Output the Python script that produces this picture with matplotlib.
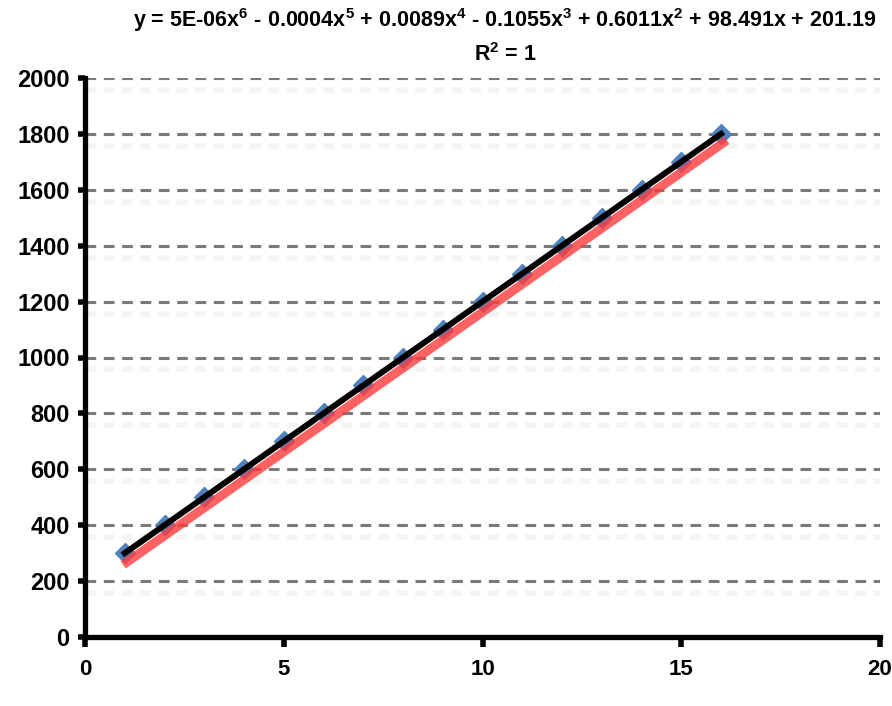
import matplotlib.pyplot as plt
import matplotlib.patheffects as pe
import numpy as np

# data
x_vals = [1, 2, 3, 4, 5, 6, 7, 8, 9, 10, 11, 12, 13, 14, 15, 16]
y_vals = [300, 400, 500, 600, 700, 800, 900, 1000, 1100, 1200, 1300, 1400, 1500, 1600, 1700, 1800]
y_ticks = [0, 200, 400, 600, 800, 1000, 1200, 1400, 1600, 1800, 2000]
x_ticks = [0, 5, 10, 15, 20]
equation = "y = 5E-06x$^6$ - 0.0004x$^5$ + 0.0089x$^4$ - 0.1055x$^3$ + 0.6011x$^2$ + 98.491x + 201.19"
r2_text = "R$^2$ = 1"

plt.rcParams['font.family'] = ['Liberation Sans', 'DejaVu Sans']
plt.rcParams['mathtext.fontset'] = 'custom'
plt.rcParams['mathtext.rm'] = 'Liberation Sans:bold'

fig = plt.figure(figsize=(8.92, 7.06), dpi=100)
ax = fig.add_axes([85 / 892, 1 - 637 / 706, 795 / 892, 559 / 706])

# gridlines with faint shadow
for yt in y_ticks[1:]:
    ax.axhline(yt, color='#7a7a7a', linewidth=2.2, linestyle=(0, (3.5, 2.5)), zorder=1,
               path_effects=[pe.SimpleLineShadow(offset=(0, -8.6), shadow_color='#e8e8e8', alpha=0.45,
                                                 linewidth=4),
                             pe.Normal()])

# data markers
ax.plot(x_vals, y_vals, linestyle='none', marker='D', markersize=10, color='#4f81bd', zorder=3)

# polynomial trendline (degree 6) with red shadow
coef = np.polyfit(x_vals, y_vals, 6)
xs = np.linspace(min(x_vals), max(x_vals), 200)
ax.plot(xs, np.polyval(coef, xs), color='black', linewidth=4.3, zorder=4,
        path_effects=[pe.SimpleLineShadow(offset=(1.5, -6.5), shadow_color='#ff3b3b', alpha=0.8, linewidth=6.5),
                      pe.Normal()])

ax.set_xlim(0, 20)
ax.set_ylim(0, 2000)
ax.set_xticks(x_ticks)
ax.set_yticks(y_ticks)
for s in ['top', 'right']:
    ax.spines[s].set_visible(False)
for s in ['left', 'bottom']:
    ax.spines[s].set_linewidth(3.8)
ax.tick_params(axis='y', direction='out', length=5, width=4, pad=6, labelsize=17)
ax.tick_params(axis='x', direction='out', length=7, width=4, pad=9, labelsize=16)
for lab in ax.get_xticklabels() + ax.get_yticklabels():
    lab.set_fontweight('bold')

fig.text(505 / 892, 1 - 20 / 706, equation, ha='center', va='center', fontsize=15.5, fontweight='bold')
fig.text(505 / 892, 1 - 55 / 706, r2_text, ha='center', va='center', fontsize=15.5, fontweight='bold')

fig.savefig('out.png', dpi=100)
